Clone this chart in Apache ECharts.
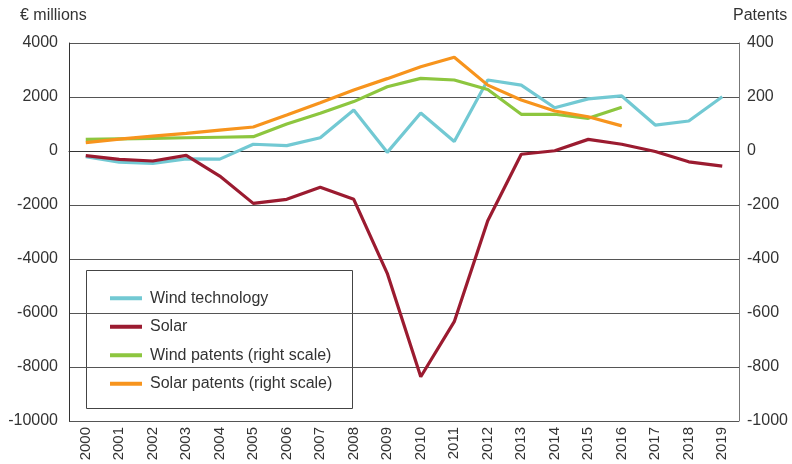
<!DOCTYPE html>
<html>
<head>
<meta charset="utf-8">
<script src="https://cdn.jsdelivr.net/npm/echarts@6/dist/echarts.min.js"></script>
<style>html,body{margin:0;padding:0;background:#fff}#c{width:792px;height:464px}</style>
</head>
<body>
<div id="c"></div>
<script>
const years = ['2000','2001','2002','2003','2004','2005','2006','2007','2008','2009','2010','2011','2012','2013','2014','2015','2016','2017','2018','2019'];
const windTech = [-210,-410,-460,-290,-300,250,200,490,1520,-50,1410,350,2630,2440,1600,1930,2040,960,1110,2010];
const solar = [-170,-310,-370,-160,-930,-1940,-1790,-1340,-1790,-4530,-8360,-6320,-2580,-120,10,430,250,-20,-400,-560];
const windPatents = [43,45,47,49,51,53,100,140,183,238,269,263,228,136,136,121,162,null,null,null];
const solarPatents = [31,44,55,65,77,89,133,179,226,268,312,347,244,189,148,127,93,null,null,null];
const leftTicks = {min:-10000,max:4000,interval:2000};
const rightTicks = {min:-1000,max:400,interval:200};

const FONT = 'Liberation Sans';
const chart = echarts.init(document.getElementById('c'), null, {renderer:'canvas'});
const mk = (name, data, color, yIdx) => ({
  name, type:'line', data, yAxisIndex:yIdx, symbol:'none', smooth:false,
  connectNulls:false, lineStyle:{width:3.2, color}, itemStyle:{color}
});
const plain = v => String(v);
chart.setOption({
  animation:false,
  textStyle:{fontFamily:FONT},
  grid:{left:69, right:53, top:43, bottom:43, containLabel:false},
  xAxis:{
    type:'category', data:years, boundaryGap:true,
    axisLine:{show:true, lineStyle:{color:'#333', width:1}},
    axisTick:{show:false},
    axisLabel:{rotate:90, color:'#333', fontSize:15, fontFamily:FONT, margin:6, interval:0}
  },
  yAxis:[
    {type:'value', min:leftTicks.min, max:leftTicks.max, interval:leftTicks.interval,
     axisLine:{show:true, lineStyle:{color:'#333'}}, axisTick:{show:false},
     axisLabel:{color:'#333', fontSize:16, fontFamily:FONT, margin:11, formatter:plain},
     splitLine:{show:true, lineStyle:{color:'#555', width:1}}},
    {type:'value', min:rightTicks.min, max:rightTicks.max, interval:rightTicks.interval,
     axisLine:{show:true, lineStyle:{color:'#777'}}, axisTick:{show:false},
     axisLabel:{color:'#333', fontSize:16, fontFamily:FONT, margin:8, formatter:plain},
     splitLine:{show:false}}
  ],
  legend:{
    orient:'vertical', left:105, top:284, itemGap:10, icon:'rect', itemWidth:32, itemHeight:4,
    textStyle:{fontSize:16, fontFamily:FONT, color:'#333', lineHeight:18.5, padding:[0,0,0,3]},
    data:['Wind technology','Solar','Wind patents (right scale)','Solar patents (right scale)']
  },
  graphic:[
    {type:'rect', left:86, top:270, shape:{width:266, height:138}, style:{fill:'#fff', stroke:'#444', lineWidth:1}, z:-1, zlevel:0},
    {type:'text', left:20, top:8, style:{text:'€ millions', fontSize:16, fontFamily:FONT, fill:'#333'}},
    {type:'text', left:733, top:8, style:{text:'Patents', fontSize:16, fontFamily:FONT, fill:'#333'}}
  ],
  series:[
    mk('Wind technology', windTech, '#72C9D3', 0),
    mk('Solar', solar, '#9B1B30', 0),
    mk('Wind patents (right scale)', windPatents, '#8DC63F', 1),
    mk('Solar patents (right scale)', solarPatents, '#F7941D', 1)
  ]
});
</script>
</body>
</html>
